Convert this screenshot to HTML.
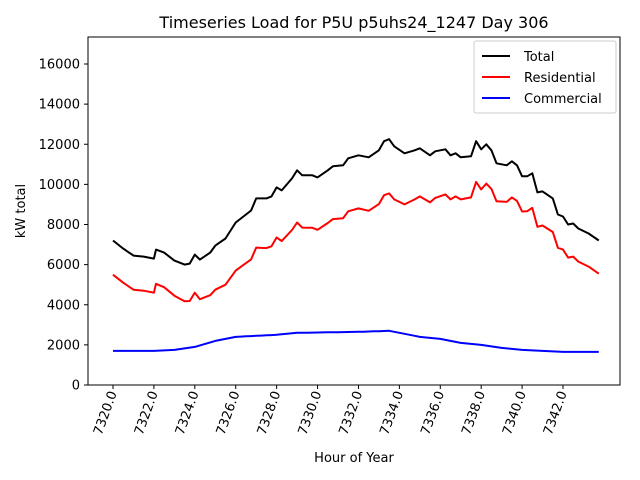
<!DOCTYPE html>
<html><head><meta charset="utf-8"><style>body{margin:0;background:#fff}svg{display:block;font-family:"DejaVu Sans","Liberation Sans",sans-serif}</style></head>
<body>
<svg id="s" width="640" height="480" viewBox="0 0 640 480" xmlns="http://www.w3.org/2000/svg">
<rect width="640" height="480" fill="#fff"/>
<text x="354" y="28" font-size="16" text-anchor="middle">Timeseries Load for P5U p5uhs24_1247  Day 306</text>
<g id="plot"></g>
<rect x="88" y="37" width="532" height="348" fill="none" stroke="#000" stroke-width="1"/>
<g id="ticks" font-size="13"></g>
<text x="354" y="462" font-size="13" text-anchor="middle">Hour of Year</text>
<text transform="translate(25,211) rotate(-90)" font-size="13" text-anchor="middle">kW total</text>
<rect x="474" y="41" width="142" height="72" fill="#fff" stroke="#ccc" rx="2"/>
<line x1="482" y1="56" x2="510" y2="56" stroke="#000" stroke-width="2"/>
<line x1="482" y1="77" x2="510" y2="77" stroke="#f00" stroke-width="2"/>
<line x1="482" y1="98" x2="510" y2="98" stroke="#00f" stroke-width="2"/>
<text x="524" y="61" font-size="13">Total</text>
<text x="524" y="82" font-size="13">Residential</text>
<text x="524" y="103" font-size="13">Commercial</text>
</svg>
<script>
var X=function(h){return 113+(h-7320)*20.4545};
var Y=function(v){return 385-v*(321/16000)};
var T=[[7320,7200],[7320.5,6800],[7321,6450],[7321.5,6400],[7322,6300],[7322.1,6750],[7322.5,6600],[7323,6200],[7323.5,6000],[7323.75,6050],[7324,6500],[7324.25,6250],[7324.75,6600],[7325,6950],[7325.5,7300],[7326,8100],[7326.5,8500],[7326.75,8700],[7327,9300],[7327.5,9300],[7327.75,9400],[7328,9850],[7328.25,9700],[7328.75,10300],[7329,10700],[7329.25,10450],[7329.75,10450],[7330,10350],[7330.5,10700],[7330.75,10900],[7331.25,10950],[7331.5,11300],[7332,11450],[7332.5,11350],[7333,11700],[7333.25,12150],[7333.5,12250],[7333.75,11900],[7334.25,11550],[7334.75,11700],[7335,11800],[7335.5,11450],[7335.75,11650],[7336.25,11750],[7336.5,11450],[7336.75,11550],[7337,11350],[7337.5,11400],[7337.75,12150],[7338,11750],[7338.25,12000],[7338.5,11700],[7338.75,11050],[7339.25,10950],[7339.5,11150],[7339.75,10950],[7340,10400],[7340.25,10400],[7340.5,10550],[7340.75,9600],[7341,9650],[7341.5,9300],[7341.75,8500],[7342,8400],[7342.25,8000],[7342.5,8050],[7342.75,7800],[7343.25,7550],[7343.75,7200]];
var C=[[7320,1700],[7322,1700],[7323,1750],[7324,1900],[7325,2200],[7326,2400],[7328,2500],[7329,2600],[7332,2650],[7333.5,2700],[7334,2600],[7335,2400],[7336,2300],[7337,2100],[7338,2000],[7339,1850],[7340,1750],[7341,1700],[7342,1650],[7343.75,1650]];
function interp(a,h){for(var i=0;i<a.length-1;i++){if(h>=a[i][0]&&h<=a[i+1][0]){var t=(h-a[i][0])/(a[i+1][0]-a[i][0]);return a[i][1]+t*(a[i+1][1]-a[i][1]);}}return a[a.length-1][1];}
function pts(f){var p=[];for(var k=0;k<T.length;k++){var h=T[k][0];p.push(X(h).toFixed(1)+","+Y(f(h,T[k][1])).toFixed(1));}return p.join(" ");}
var g=document.getElementById("plot"),ns="http://www.w3.org/2000/svg";
function pl(p,c){var e=document.createElementNS(ns,"polyline");e.setAttribute("points",p);e.setAttribute("fill","none");e.setAttribute("stroke",c);e.setAttribute("stroke-width","2");e.setAttribute("stroke-linejoin","round");g.appendChild(e);}
pl(pts(function(h,v){return v;}),"#000");
pl(pts(function(h,v){return v-interp(C,h);}),"#f00");
var cp=[];for(var h=7320;h<=7343.76;h+=0.25)cp.push(X(h).toFixed(1)+","+Y(interp(C,h)).toFixed(1));pl(cp.join(" "),"#00f");
var tk=document.getElementById("ticks"),s="";
for(var v=0;v<=16000;v+=2000){var y=Y(v);s+='<line x1="84" y1="'+y+'" x2="88" y2="'+y+'" stroke="#000"/><text x="80" y="'+(y+4.5)+'" text-anchor="end">'+v+'</text>';}
for(var h=7320;h<=7342;h+=2){var x=X(h);s+='<line x1="'+x+'" y1="385" x2="'+x+'" y2="389" stroke="#000"/><text transform="translate('+(x+4)+',393) rotate(-70)" text-anchor="end">'+h+'.0</text>';}
tk.innerHTML=s;
</script>
</body></html>
